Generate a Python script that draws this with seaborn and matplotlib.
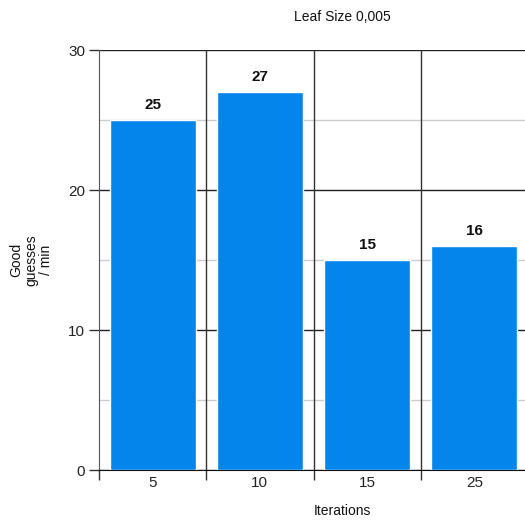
import pandas as pd
import numpy as np
import matplotlib
matplotlib.use('Agg')
import matplotlib.pyplot as plt
import seaborn as sns
from matplotlib.ticker import MultipleLocator, FixedLocator

iterations = ['5', '10', '15', '25']
good_guesses = [25, 27, 15, 16]

sns.set_style('white')
plt.rcParams['font.family'] = ['Liberation Sans', 'DejaVu Sans']
plt.rcParams['text.color'] = '#111111'
plt.rcParams['xtick.color'] = '#333333'
plt.rcParams['ytick.color'] = '#333333'
plt.rcParams['xtick.labelcolor'] = '#222222'
plt.rcParams['ytick.labelcolor'] = '#222222'

df = pd.DataFrame({'Iterations': iterations, 'Good guesses / min': good_guesses})

fig = plt.figure(figsize=(5.25, 5.21), dpi=100)
ax = fig.add_axes([99 / 525, 51 / 521, 429 / 525, 420 / 521])

sns.barplot(data=df, x='Iterations', y='Good guesses / min', color='#0385ec',
            saturation=1, width=0.8, ax=ax, zorder=3)

ax.set_ylim(0, 30)
ax.set_xlim(-0.5, 3.5)

# grid: major black, minor light gray, vertical separators between bars
ax.yaxis.set_major_locator(MultipleLocator(10))
ax.yaxis.set_minor_locator(MultipleLocator(5))
ax.grid(axis='y', which='major', color='#222222', linewidth=1.0, zorder=1)
ax.grid(axis='y', which='minor', color='#cccccc', linewidth=1.0, zorder=1)
for b in np.arange(0.5, len(iterations), 1):
    ax.axvline(b, color='#333333', linewidth=1.0, zorder=1)

for s in ['top', 'right']:
    ax.spines[s].set_visible(False)
ax.spines['left'].set_color('#555555')
ax.spines['bottom'].set_color('#111111')

ax.tick_params(axis='y', which='major', left=True, direction='out', length=7, width=1,
               labelsize=11, pad=3)
ax.tick_params(axis='y', which='minor', left=False, length=0)
ax.set_xticks(range(len(iterations)))
ax.set_xticklabels(iterations)
ax.tick_params(axis='x', which='major', bottom=False, length=0, labelsize=11, pad=4)
ax.xaxis.set_minor_locator(FixedLocator(np.arange(-0.5, len(iterations), 1)))
ax.tick_params(axis='x', which='minor', bottom=True, direction='out', length=7, width=1)

for i, v in enumerate(good_guesses):
    ax.text(i, v + 0.55, str(v), ha='center', va='bottom', fontsize=11,
            fontweight='bold', zorder=4)

ax.set_xlabel('')
ax.set_ylabel('')
fig.text(342 / 525, 1 - 17 / 521, 'Leaf Size 0,005', ha='center', va='center', fontsize=10)
fig.text(342 / 525, 1 - 511 / 521, 'Iterations', ha='center', va='center', fontsize=10)
fig.text(31 / 525, 1 - 260 / 521, 'Good\nguesses\n/ min', ha='center', va='center',
         rotation=90, fontsize=10, linespacing=1.1)

fig.savefig('out.png', dpi=100)
